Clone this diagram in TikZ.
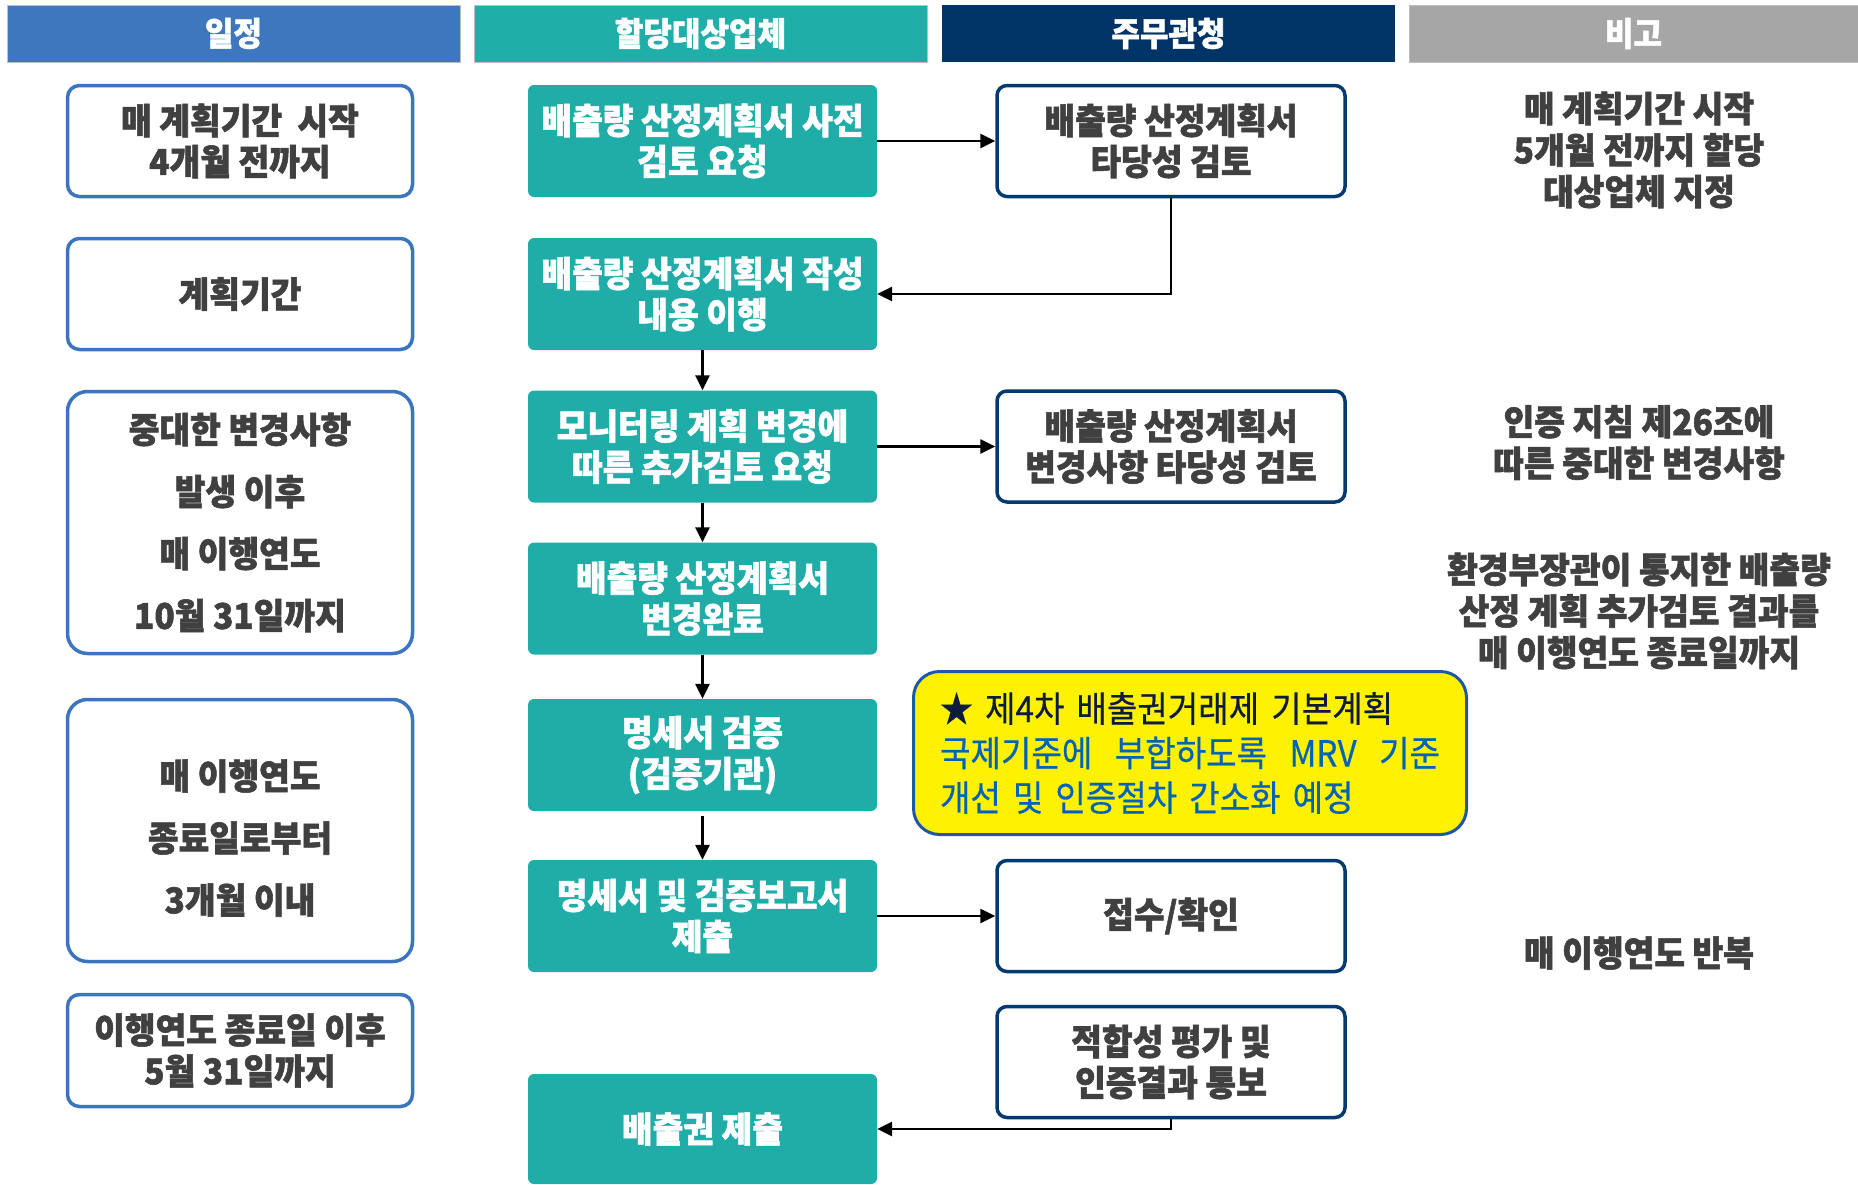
\documentclass[tikz,border=0pt]{standalone}
\usepackage{fontspec}
\usepackage{tikz}
\usetikzlibrary{arrows.meta}
\newfontfamily\krfont{Noto Sans CJK KR}[FakeStretch=0.94,BoldFeatures={FakeBold=1.6}]
\newfontfamily\krmemo{Noto Sans CJK KR}[FakeStretch=0.92,FakeBold=0.4]
\definecolor{hdrblue}{HTML}{3E77BD}
\definecolor{hdrteal}{HTML}{20AEA8}
\definecolor{hdrnavy}{HTML}{003366}
\definecolor{hdrgray}{HTML}{A6A6A6}
\definecolor{lineblue}{HTML}{3B74BF}
\definecolor{boxteal}{HTML}{20ADA8}
\definecolor{boxnavy}{HTML}{003A70}
\definecolor{txtgray}{HTML}{404040}
\definecolor{memoblue}{HTML}{0062B8}
\definecolor{memonavy}{HTML}{0D1B3E}
\definecolor{memoline}{HTML}{1E56A8}

\begin{document}
\begin{tikzpicture}[x=1pt,y=-1pt,
  hd/.style={minimum width=453pt,minimum height=57pt,inner sep=0pt,text=white,
    font=\krfont\bfseries\fontsize{33}{36}\selectfont},
  lbox/.style={draw=lineblue,line width=3.5pt,rounded corners=12pt,fill=white,
    minimum width=345pt,text=txtgray,align=center,
    font=\krfont\bfseries\fontsize{35.5}{41}\selectfont},
  tallbox/.style={lbox,rounded corners=20pt,minimum height=262pt,
    font=\krfont\bfseries\fontsize{35.5}{62}\selectfont},
  mbox/.style={fill=boxteal,rounded corners=6pt,minimum width=349pt,
    minimum height=112pt,text=white,align=center,
    font=\krfont\bfseries\fontsize{35.5}{41}\selectfont},
  rbox/.style={draw=boxnavy,line width=3.5pt,rounded corners=10pt,fill=white,
    minimum width=348pt,minimum height=111pt,text=txtgray,align=center,
    font=\krfont\bfseries\fontsize{35.5}{41}\selectfont},
  note/.style={text=txtgray,align=center,
    font=\krfont\bfseries\fontsize{35.5}{41.5}\selectfont},
  memo/.style={draw=memoline,line width=3pt,fill=yellow,rounded corners=26pt,
    minimum width=553pt,minimum height=163pt,inner xsep=26pt,text width=500pt,
    align=left,text=memoblue,font=\krmemo\fontsize{36}{44.5}\selectfont},
  conn/.style={line width=2.6pt,-{Triangle[length=15pt,width=14pt]}}]
\useasboundingbox (0,0) rectangle (1858,1184);

% header row
\node[hd,fill=hdrblue,draw=black!25,line width=1pt] (h1) at (233.5,33.5) {일정};
\node[hd,fill=hdrteal,draw=black!25,line width=1pt] (h2) at (700.5,33.5) {할당대상업체};
\node[hd,fill=hdrnavy] (h3) at (1168.5,33.5) {주무관청};
\node[hd,fill=hdrgray,draw=black!25,line width=1pt,minimum width=449pt] (h4) at (1633.5,33.5) {비고};

% schedule
\node[lbox,minimum height=111pt] (l1) at (240,141) {매 계획기간~ 시작\\4개월 전까지};
\node[lbox,minimum height=111pt] (l2) at (240,294) {계획기간};
\node[tallbox] (l3) at (240,522.5) {중대한 변경사항\\발생 이후\\매 이행연도\\10월 31일까지};
\node[tallbox] (l4) at (240,830.5) {\rule{0pt}{45pt}매 이행연도\\종료일로부터\\3개월 이내};
\node[lbox,minimum height=112pt] (l5) at (240,1050.5) {이행연도 종료일 이후\\5월 31일까지};

% companies
\node[mbox] (m1) at (702.5,141) {배출량 산정계획서 사전\\검토 요청};
\node[mbox] (m2) at (702.5,294) {배출량 산정계획서 작성\\내용 이행};
\node[mbox] (m3) at (702.5,446.5) {모니터링 계획 변경에\\따른 추가검토 요청};
\node[mbox] (m4) at (702.5,598.5) {배출량 산정계획서\\변경완료};
\node[mbox] (m5) at (702.5,755) {명세서 검증\\(검증기관)};
\node[mbox] (m6) at (702.5,916) {명세서 및 검증보고서\\제출};
\node[mbox,minimum height=110pt] (m7) at (702.5,1129) {배출권 제출};

% authority
\node[rbox] (r1) at (1171,141) {배출량 산정계획서\\타당성 검토};
\node[rbox] (r2) at (1171,446.5) {배출량 산정계획서\\변경사항 타당성 검토};
\node[rbox] (r3) at (1171,916) {접수/확인};
\node[rbox] (r4) at (1171,1062) {적합성 평가 및\\인증결과 통보};

\node[memo] (memo) at (1190,753) {{\color{memonavy}★ 제4차 배출권거래제 기본계획}\\
  국제기준에\hfill 부합하도록\hfill MRV\hfill 기준\\
  개선 및 인증절차 간소화 예정};

% remarks
\node[note] (n1) at (1639,150) {매 계획기간 시작\\5개월 전까지 할당\\대상업체 지정};
\node[note] (n2) at (1639,442.5) {인증 지침 제26조에\\따른 중대한 변경사항};
\node[note] (n3) at (1639,611) {환경부장관이 통지한 배출량\\산정 계획 추가검토 결과를\\매 이행연도 종료일까지};
\node[note] (n4) at (1639,953) {매 이행연도 반복};

% flow
\draw[conn] (m1) -- (r1);
\draw[conn] (r1.south) |- (m2.east);
\draw[conn] (m2) -- (m3);
\draw[conn] (m3) -- (r2);
\draw[conn] (m3) -- (m4);
\draw[conn] (m4) -- (m5);
\draw[conn,shorten <=5pt] (m5) -- (m6);
\draw[conn] (m6) -- (r3);
\draw[conn] (r4.south) |- (m7.east);
\end{tikzpicture}
\end{document}
